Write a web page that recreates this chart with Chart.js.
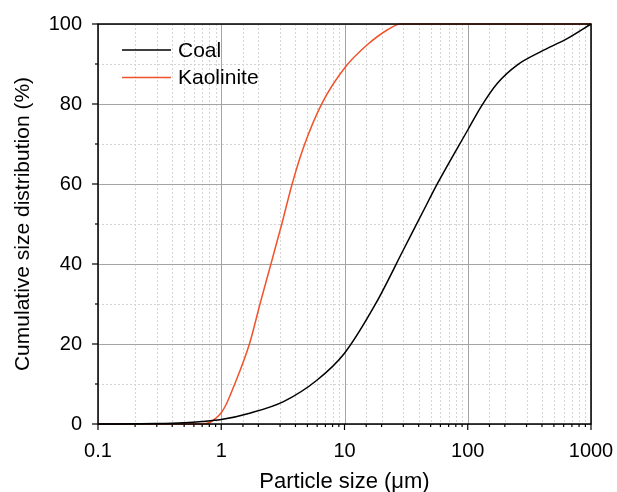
<!DOCTYPE html>
<html>
<head>
<meta charset="utf-8">
<script src="https://cdn.jsdelivr.net/npm/chart.js@4"></script>
<style>
  html, body { margin: 0; padding: 0; background: #fff; }
  #wrap { width: 617px; height: 492px; }
</style>
</head>
<body>
<div id="wrap"><canvas id="psdChart" width="617" height="492"></canvas></div>
<script>
// particle size (um) and cumulative %
const coalSize = [0.1, 0.3, 0.5, 0.7, 1, 1.7, 3.2, 6, 10, 18, 30, 44, 57, 100, 128, 174, 253, 392, 646, 1000];
const coalCum  = [0, 0.1, 0.3, 0.6, 1.1, 2.7, 5.6, 11, 17.7, 30.2, 43.5, 53.5, 60.2, 73.5, 79.3, 85.2, 89.8, 93.1, 96.4, 100];

const kaoSize = [0.1, 0.5, 0.7, 0.75, 0.82, 0.9, 1, 1.1, 1.26, 1.7, 2.07, 2.53, 3.11, 3.76, 4.67, 6.58, 10.2, 15.3, 22.2, 28.5, 100, 1000];
const kaoCum  = [0, 0, 0, 0.1, 0.5, 1.4, 2.8, 5, 9.3, 20.2, 30.2, 40, 50.2, 60, 69.3, 80.2, 89.3, 94.8, 98.5, 100, 100, 100];

const xTickLabels = ['0.1', '1', '10', '100', '1000'];
const yTickLabels = ['0', '20', '40', '60', '80', '100'];

const FONT = 'Liberation Sans, Arial, sans-serif';

function pts(xs, ys) {
    return xs.map((x, i) => ({ x: x, y: ys[i] }));
}

function isDecade(v) {
    const l = Math.log10(v);
    return Math.abs(l - Math.round(l)) < 1e-6;
}

// grid, frame, outside ticks and the inset legend
const framePlugin = {
    id: 'frame',
    beforeDatasetsDraw(chart) {
        const { ctx, chartArea: a, scales: { x, y } } = chart;
        ctx.save();
        x.ticks.forEach(t => {
            const px = Math.round(x.getPixelForValue(t.value)) + 0.5;
            const major = isDecade(t.value);
            ctx.beginPath();
            ctx.setLineDash(major ? [] : [2, 2]);
            ctx.strokeStyle = major ? '#a4a4a4' : '#d4d4d4';
            ctx.lineWidth = 1;
            ctx.moveTo(px, a.top);
            ctx.lineTo(px, a.bottom);
            ctx.stroke();
        });
        y.ticks.forEach(t => {
            const py = Math.round(y.getPixelForValue(t.value)) + 0.5;
            const major = t.value % 20 === 0;
            ctx.beginPath();
            ctx.setLineDash(major ? [] : [2, 2]);
            ctx.strokeStyle = major ? '#a4a4a4' : '#d4d4d4';
            ctx.lineWidth = 1;
            ctx.moveTo(a.left, py);
            ctx.lineTo(a.right, py);
            ctx.stroke();
        });
        ctx.restore();
    },
    afterDatasetsDraw(chart) {
        const { ctx, chartArea: a, scales: { x, y } } = chart;
        ctx.save();
        ctx.setLineDash([]);
        ctx.strokeStyle = '#000';
        ctx.lineWidth = 1.5;
        ctx.strokeRect(a.left, a.top, a.right - a.left, a.bottom - a.top);

        ctx.lineWidth = 1.2;
        x.ticks.forEach(t => {
            const px = x.getPixelForValue(t.value);
            const len = isDecade(t.value) ? 6 : 3;
            ctx.beginPath();
            ctx.moveTo(px, a.bottom);
            ctx.lineTo(px, a.bottom + len);
            ctx.stroke();
        });
        y.ticks.forEach(t => {
            const py = y.getPixelForValue(t.value);
            const len = t.value % 20 === 0 ? 6 : 3;
            ctx.beginPath();
            ctx.moveTo(a.left, py);
            ctx.lineTo(a.left - len, py);
            ctx.stroke();
        });

        // legend
        ctx.font = '21px ' + FONT;
        ctx.textBaseline = 'middle';
        chart.data.datasets.forEach((ds, i) => {
            const ly = 50 + i * 27.5;
            ctx.beginPath();
            ctx.strokeStyle = ds.borderColor;
            ctx.lineWidth = 1.5;
            ctx.moveTo(122, ly);
            ctx.lineTo(171, ly);
            ctx.stroke();
            ctx.fillStyle = '#000';
            ctx.fillText(ds.label, 178, ly + 1);
        });
        ctx.restore();
    }
};

new Chart(document.getElementById('psdChart'), {
    type: 'line',
    data: {
        datasets: [
            {
                label: 'Coal',
                data: pts(coalSize, coalCum),
                borderColor: '#000000',
                borderWidth: 1.5,
                pointRadius: 0,
                cubicInterpolationMode: 'monotone'
            },
            {
                label: 'Kaolinite',
                data: pts(kaoSize, kaoCum),
                borderColor: '#f0532a',
                borderWidth: 1.5,
                pointRadius: 0,
                cubicInterpolationMode: 'monotone'
            }
        ]
    },
    options: {
        responsive: false,
        animation: false,
        clip: false,
        layout: { padding: { top: 24, right: 26, left: 0, bottom: 0 } },
        plugins: { legend: { display: false }, tooltip: { enabled: false } },
        scales: {
            x: {
                type: 'logarithmic',
                min: 0.1,
                max: 1000,
                grid: { display: false },
                border: { display: false },
                afterFit: s => { s.height = 68; s.paddingLeft = 0; s.paddingRight = 0; },
                ticks: {
                    color: '#000',
                    font: { family: FONT, size: 20 },
                    padding: 7,
                    maxRotation: 0,
                    autoSkip: false,
                    callback: v => isDecade(v) ? xTickLabels[Math.round(Math.log10(v)) + 1] : ''
                },
                title: {
                    display: true,
                    text: 'Particle size (\u03bcm)',
                    color: '#000',
                    font: { family: FONT, size: 22 },
                    padding: { top: 0, bottom: -3 }
                }
            },
            y: {
                min: 0,
                max: 100,
                grid: { display: false },
                border: { display: false },
                afterFit: s => { s.width = 98; s.paddingTop = 0; s.paddingBottom = 0; },
                ticks: {
                    stepSize: 10,
                    color: '#000',
                    font: { family: FONT, size: 20 },
                    padding: 8,
                    callback: v => v % 20 === 0 ? yTickLabels[v / 20] : ''
                },
                title: {
                    display: true,
                    text: 'Cumulative size distribution (%)',
                    color: '#000',
                    font: { family: FONT, size: 21 },
                    padding: { top: 11, bottom: 0 }
                }
            }
        }
    },
    plugins: [framePlugin]
});
</script>
</body>
</html>
